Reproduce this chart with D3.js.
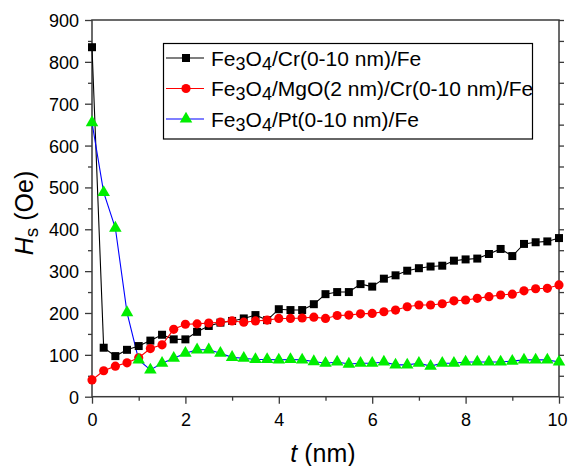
<!DOCTYPE html>
<html><head><meta charset="utf-8">
<script src="https://cdn.jsdelivr.net/npm/d3@7"></script>
<style>body{margin:0;background:#fff}svg{display:block}</style>
</head><body><svg id="c" width="568" height="466"></svg>
<script>
// ---- data ----
const thickness = [0,0.25,0.5,0.75,1,1.25,1.5,1.75,2,2.25,2.5,2.75,3,3.25,3.5,3.75,4,4.25,4.5,4.75,5,5.25,5.5,5.75,6,6.25,6.5,6.75,7,7.25,7.5,7.75,8,8.25,8.5,8.75,9,9.25,9.5,9.75,10];
const hsCr = [835,117,97,112,121,134,148,137,137,155,169,177,181,187,195,183,209,207,207,221,245,250,250,269,263,282,290,301,307,311,313,325,328,330,341,353,336,365,369,371,379];
const hsMgOCr = [40,62,73,81,93,115,124,161,173,174,176,178,181,178,181,183,187,187,188,190,187,194,195,198,199,203,207,215,219,219,222,229,231,235,239,243,245,253,258,259,267];
const hsPt = [655,488,403,201,88,64,80,92,104,112,112,104,94,92,89,89,88,89,88,84,80,83,78,80,80,83,76,76,80,73,80,80,83,83,83,83,85,88,88,88,83];
const seriesLabels = ["Fe3O4/Cr(0-10 nm)/Fe","Fe3O4/MgO(2 nm)/Cr(0-10 nm)/Fe","Fe3O4/Pt(0-10 nm)/Fe"];
const xMajorTicks = [0,2,4,6,8,10];
const xMinorTicks = [1,3,5,7,9];
const yMajorTicks = [0,100,200,300,400,500,600,700,800,900];
const yMinorTicks = [50,150,250,350,450,550,650,750,850];
const yRightTicks = [0,50,100,150,200,250,300,350,400,450,500,550,600,650,700,750,800,850,900];
const xTitle = "t";
const xUnit = " (nm)";
const yTitle = "H";
const ySub = "S";
const yUnit = " (Oe)";

// ---- layout ----
const svg = d3.select("#c");
const L = 92, R = 559, T = 20, B = 396.7;
const x = d3.scaleLinear().domain([0,10]).range([L,R]);
const y = d3.scaleLinear().domain([0,900]).range([B,T]);
const axisColor = "#3a3a3a";
const font = "'Liberation Sans', Arial, sans-serif";

svg.append("rect").attr("width",568).attr("height",466).attr("fill","#fff");

// axes
function styleAxis(g){
  g.select(".domain").remove();
  g.selectAll(".tick line").attr("stroke",axisColor).attr("stroke-width",1.3);
  g.selectAll(".tick text").attr("fill","#000").attr("font-family",font);
}
svg.append("g").attr("transform",`translate(0,${B})`)
  .call(d3.axisBottom(x).tickValues(xMajorTicks).tickSize(7).tickPadding(10).tickFormat(d3.format("d")))
  .call(styleAxis)
  .call(g=>g.selectAll(".tick text").attr("font-size",18)
    .filter(d=>d===10).attr("text-anchor","end").attr("x",567-R));
svg.append("g").attr("transform",`translate(0,${B})`)
  .call(d3.axisBottom(x).tickValues(xMinorTicks).tickSize(4).tickFormat(""))
  .call(styleAxis);
svg.append("g").attr("transform",`translate(${L},0)`)
  .call(d3.axisLeft(y).tickValues(yMajorTicks).tickSize(7).tickPadding(6).tickFormat(d3.format("d")))
  .call(styleAxis).call(g=>g.selectAll(".tick text").attr("font-size",18).attr("dy","0.36em"));
svg.append("g").attr("transform",`translate(${L},0)`)
  .call(d3.axisLeft(y).tickValues(yMinorTicks).tickSize(4).tickFormat(""))
  .call(styleAxis);
svg.append("g").attr("transform",`translate(${R},0)`)
  .call(d3.axisRight(y).tickValues(yRightTicks).tickSize(5).tickFormat(""))
  .call(styleAxis);

// frame
svg.append("rect").attr("x",L).attr("y",T).attr("width",R-L).attr("height",B-T)
  .attr("fill","none").attr("stroke",axisColor).attr("stroke-width",1.5);

// series
const series = [
  {vals:hsCr, line:"#000000", fill:"#000000", shape:"square"},
  {vals:hsMgOCr, line:"#ff0000", fill:"#ff0000", shape:"circle"},
  {vals:hsPt, line:"#0000ff", fill:"#00ee00", shape:"triangle"}
];
const symbolFor = s => s==="square" ? d3.symbol(d3.symbolSquare, 64)
  : s==="circle" ? d3.symbol(d3.symbolCircle, 66) : d3.symbol(d3.symbolTriangle, 68);

const line = d3.line().x(d=>x(d[0])).y(d=>y(d[1]));
series.forEach(s=>{
  const pts = thickness.map((t,i)=>[t,s.vals[i]]);
  svg.append("path").datum(pts).attr("d",line).attr("fill","none")
    .attr("stroke",s.line).attr("stroke-width",1.1);
});
series.forEach(s=>{
  const pts = thickness.map((t,i)=>[t,s.vals[i]]);
  svg.append("g").selectAll("path").data(pts).join("path")
    .attr("transform",d=>`translate(${x(d[0])},${y(d[1])})`)
    .attr("d",symbolFor(s.shape)).attr("fill",s.fill);
});

// legend
const lg = svg.append("g");
lg.append("rect").attr("x",163.5).attr("y",43.5).attr("width",369).attr("height",95.5)
  .attr("fill","#fff").attr("stroke","#000").attr("stroke-width",1.2);
series.forEach((s,i)=>{
  const cy = 58 + i*30.5;
  lg.append("line").attr("x1",166).attr("x2",204).attr("y1",cy).attr("y2",cy)
    .attr("stroke",s.line).attr("stroke-width",1.1);
  lg.append("path").attr("transform",`translate(186,${cy})`).attr("d",symbolFor(s.shape)).attr("fill",s.fill);
  const txt = lg.append("text").attr("x",211).attr("y",cy+7.5).attr("font-family",font)
    .attr("font-size",21).attr("fill","#000");
  const lab = seriesLabels[i];
  const m = lab.match(/^(Fe)(3)(O)(4)(.*)$/);
  txt.append("tspan").text(m[1]);
  txt.append("tspan").attr("dy",4).attr("font-size",18).text(m[2]);
  txt.append("tspan").attr("dy",-4).text(m[3]);
  txt.append("tspan").attr("dy",4).attr("font-size",18).text(m[4]);
  txt.append("tspan").attr("dy",-4).text(m[5]);
});

// axis titles
const xt = svg.append("text").attr("x",323).attr("y",462).attr("text-anchor","middle")
  .attr("font-family",font).attr("font-size",25).attr("fill","#000");
xt.append("tspan").attr("font-style","italic").text(xTitle);
xt.append("tspan").text(xUnit);

const yt = svg.append("text").attr("transform","translate(33,213) rotate(-90)").attr("text-anchor","middle")
  .attr("font-family",font).attr("font-size",25).attr("fill","#000");
yt.append("tspan").attr("font-style","italic").text(yTitle);
yt.append("tspan").attr("font-size",19).attr("dy",5).text(ySub.toLowerCase());
yt.append("tspan").attr("dy",-5).text(yUnit);
</script>
</body></html>
